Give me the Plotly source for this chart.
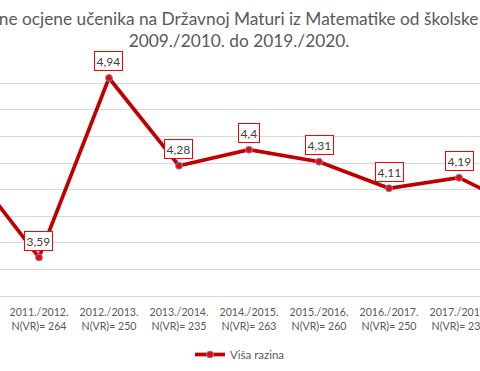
import plotly.graph_objects as go

# Data
years = ["2010./2011.", "2011./2012.", "2012./2013.", "2013./2014.", "2014./2015.",
         "2015./2016.", "2016./2017.", "2017./2018.", "2018./2019."]
n_vr = [None, 264, 250, 235, 263, 260, 250, 236, None]
visa_razina = [4.27, 3.59, 4.94, 4.28, 4.4, 4.31, 4.11, 4.19, 3.93]
series_name = "Viša razina"
title_line1 = "Prosječne ocjene učenika na Državnoj Maturi iz Matematike od školske godine"
title_line2 = "2009./2010. do 2019./2020."

FONT = "Lato"
GRAY = "#595959"

fig = go.Figure()
fig.add_trace(go.Scatter(
    x=years, y=visa_razina, mode="lines+markers", name=series_name,
    line=dict(color="#C00000", width=3.7),
    marker=dict(color="#FF0000", size=7, line=dict(color="#5B9BD5", width=1)),
))

annotations = []
for yr, v, n in zip(years, visa_razina, n_vr):
    if n is None:
        continue
    annotations.append(dict(
        x=yr, y=v, xref="x", yref="y", text=str(v).replace(".", ","),
        showarrow=False, yshift=16.5, font=dict(family=FONT, size=12, color="#404040"),
        bgcolor="white", bordercolor="#FF0000", borderwidth=1, borderpad=1.5,
    ))

tickvals = [yr for yr, n in zip(years, n_vr) if n is not None]
ticktext = [f"{yr}<br>N(VR)= {n}" for yr, n in zip(years, n_vr) if n is not None]

fig.update_layout(
    width=480, height=371,
    margin=dict(l=0, r=0, t=70.4, b=75.4, autoexpand=False),
    paper_bgcolor="white", plot_bgcolor="white",
    title=dict(text=title_line1 + "<br>" + title_line2, x=239 / 480, xanchor="center",
               xref="container", y=1 - 25 / 371, yanchor="top", yref="container",
               font=dict(family=FONT, size=17.3, color=GRAY)),
    xaxis=dict(type="category", categoryorder="array", categoryarray=years,
               range=[0.443, 7.3], tickmode="array", tickvals=tickvals, ticktext=ticktext,
               showgrid=False, showline=True, linecolor="#D9D9D9", linewidth=1,
               ticks="", ticklabeloverflow="allow", ticklabelstandoff=6,
               tickfont=dict(family=FONT, size=10.6, color=GRAY)),
    yaxis=dict(range=[3.3, 5.0], tick0=3.3, dtick=0.2, showgrid=True, gridcolor="#D9D9D9",
               gridwidth=1, showticklabels=False, zeroline=False, showline=False),
    showlegend=True,
    legend=dict(orientation="h", x=0.5, xanchor="center", y=1 - 340 / 371, yanchor="top",
                yref="container", font=dict(family=FONT, size=11.5, color=GRAY)),
    annotations=annotations,
)

fig.write_html("out.html", config={"displayModeBar": False},
               post_script="document.body.style.margin='0';document.body.style.padding='0';")
